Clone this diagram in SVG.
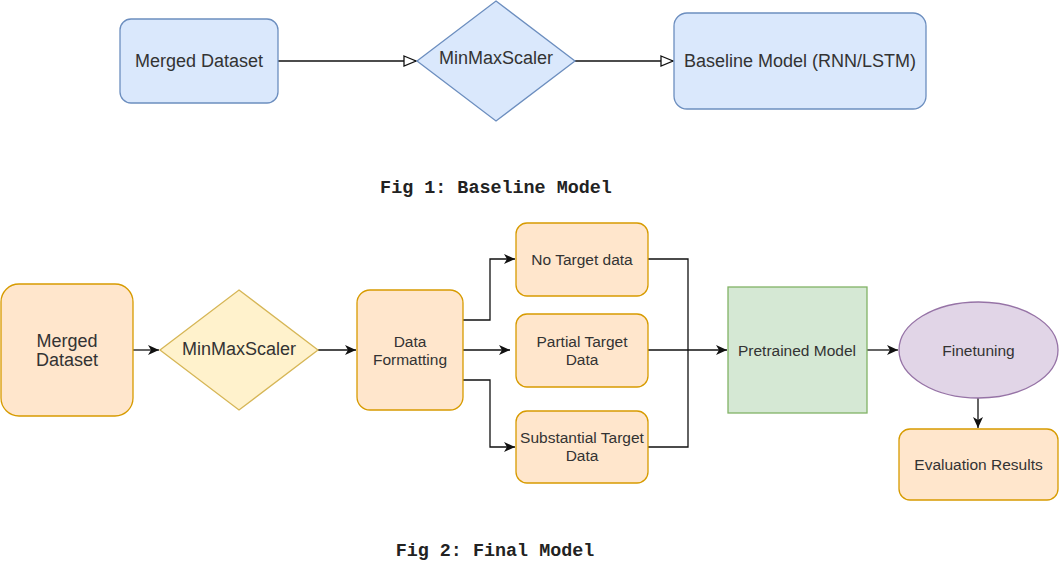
<svg xmlns="http://www.w3.org/2000/svg" width="1059" height="586" viewBox="0 0 1059 586">
<defs>
<style>
.blue{fill:#dae8fc;stroke:#6c8ebf;stroke-width:1.3}
.orange{fill:#ffe6cc;stroke:#d79b00;stroke-width:1.3}
.yellow{fill:#fff2cc;stroke:#d6b656;stroke-width:1.3}
.green{fill:#d5e8d4;stroke:#82b366;stroke-width:1.3}
.purple{fill:#e1d5e7;stroke:#9673a6;stroke-width:1.3}
.t{font-family:"Liberation Sans",Arial,sans-serif;fill:#333;text-anchor:middle;dominant-baseline:central}
.big{font-size:18px}
.mid{font-size:15.5px}
.cap{font-family:"Liberation Mono","Courier New",monospace;font-weight:bold;font-size:18.4px;fill:#222;text-anchor:middle}
.e{fill:none;stroke:#111;stroke-width:1.3}
.open{marker-end:url(#open)}
.fill{marker-end:url(#arr)}
</style>
<marker id="open" markerUnits="userSpaceOnUse" markerWidth="16" markerHeight="14" refX="13" refY="6" orient="auto">
<path d="M1,1 L13,6 L1,11 Z" fill="#fff" stroke="#111" stroke-width="1.3"/>
</marker>
<marker id="arr" markerUnits="userSpaceOnUse" markerWidth="14" markerHeight="12" refX="11" refY="5" orient="auto">
<path d="M0,0 L11,5 L0,10 L3,5 Z" fill="#111"/>
</marker>
</defs>

<g id="connectors">
<path class="e open" d="M278,61 L416,61"/>
<path class="e open" d="M575,61 L673,61"/>
<path class="e fill" d="M133,350 L159,350"/>
<path class="e fill" d="M318,350 L356,350"/>
<path class="e fill" d="M463,320 L490,320 L490,259 L515,259"/>
<path class="e fill" d="M463,350 L510,350"/>
<path class="e fill" d="M463,380 L490,380 L490,447 L515,447"/>
<path class="e" d="M648,259 L688,259 L688,350"/>
<path class="e" d="M648,447 L688,447 L688,350"/>
<path class="e fill" d="M648,350 L727,350"/>
<path class="e fill" d="M867,350 L898,350"/>
<path class="e fill" d="M978,398 L978,428"/>
</g>

<g id="top-merged">
<rect class="blue" x="120" y="19" width="158" height="84" rx="11"/>
<text class="t big" x="199" y="61">Merged Dataset</text>
</g>
<g id="top-scaler">
<polygon class="blue" points="496,1 575,61 496,121 417,61"/>
<text class="t big" x="496" y="58">MinMaxScaler</text>
</g>
<g id="top-baseline">
<rect class="blue" x="674" y="13" width="252" height="96" rx="13"/>
<text class="t big" x="800" y="61">Baseline Model (RNN/LSTM)</text>
</g>
<text class="cap" x="496" y="193">Fig 1: Baseline Model</text>

<g id="merged">
<rect class="orange" x="1" y="284" width="132" height="132" rx="18"/>
<text class="t big" x="67" y="341">Merged</text>
<text class="t big" x="67" y="360">Dataset</text>
</g>
<g id="scaler">
<polygon class="yellow" points="239,290 318,350 239,410 160,350"/>
<text class="t big" x="239" y="349">MinMaxScaler</text>
</g>
<g id="formatting">
<rect class="orange" x="357" y="290" width="106" height="120" rx="13"/>
<text class="t mid" x="410" y="341">Data</text>
<text class="t mid" x="410" y="359">Formatting</text>
</g>
<g id="no-target">
<rect class="orange" x="516" y="223" width="132" height="73" rx="11"/>
<text class="t mid" x="582" y="259">No Target data</text>
</g>
<g id="partial-target">
<rect class="orange" x="516" y="314" width="132" height="73" rx="11"/>
<text class="t mid" x="582" y="341">Partial Target</text>
<text class="t mid" x="582" y="359">Data</text>
</g>
<g id="substantial-target">
<rect class="orange" x="516" y="411" width="132" height="72" rx="11"/>
<text class="t mid" x="582" y="437">Substantial Target</text>
<text class="t mid" x="582" y="455">Data</text>
</g>
<g id="pretrained">
<rect class="green" x="728" y="287" width="139" height="126"/>
<text class="t mid" x="797" y="350">Pretrained Model</text>
</g>
<g id="finetuning">
<ellipse class="purple" cx="978.5" cy="350" rx="79.5" ry="48"/>
<text class="t mid" x="978.5" y="350">Finetuning</text>
</g>
<g id="evaluation">
<rect class="orange" x="899" y="429" width="159" height="71" rx="11"/>
<text class="t mid" x="978.5" y="464">Evaluation Results</text>
</g>
<text class="cap" x="495" y="556">Fig 2: Final Model</text>
</svg>
